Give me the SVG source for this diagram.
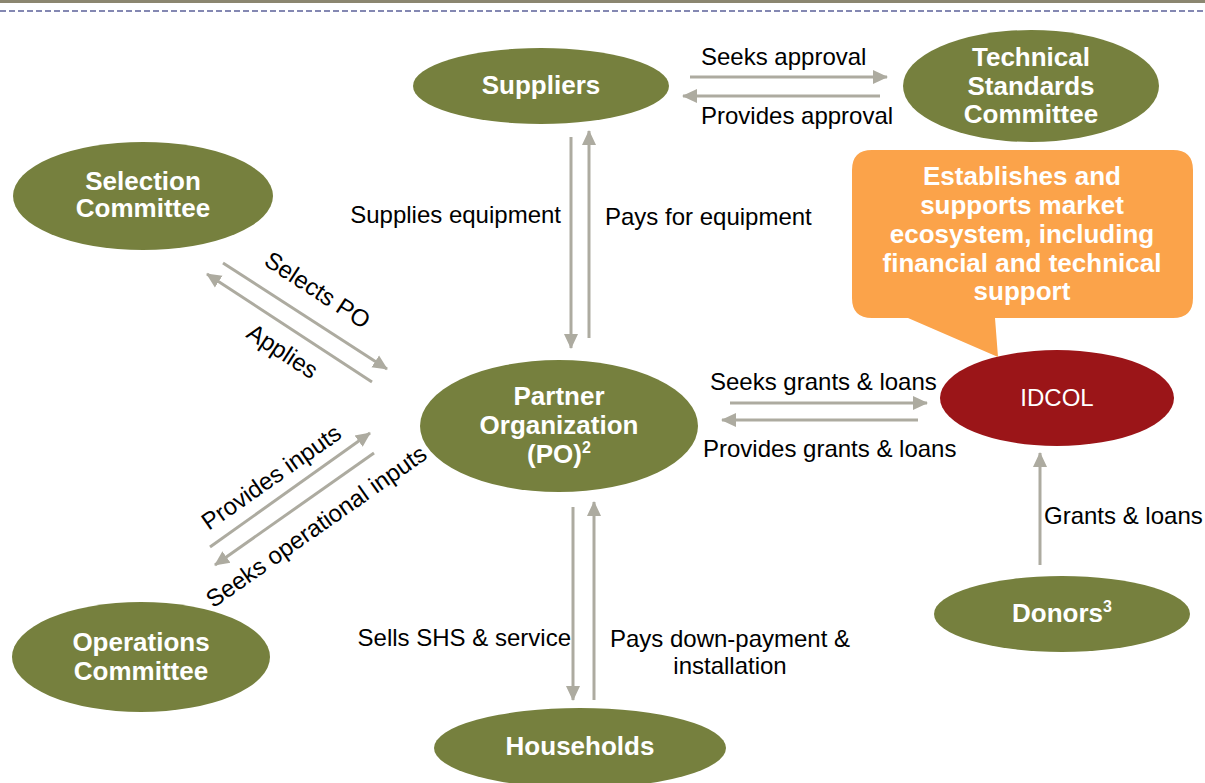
<svg xmlns="http://www.w3.org/2000/svg" width="1205" height="783" viewBox="0 0 1205 783">
<style>
.node{fill:#76803e}
.nt{font-family:"Liberation Sans",Arial,sans-serif;font-weight:bold;font-size:26px;fill:#fff;text-anchor:middle}
.lbl{font-family:"Liberation Sans",Arial,sans-serif;font-size:24px;fill:#000}
.c{stroke:#adaba0;stroke-width:3;fill:none;marker-end:url(#ah)}
</style>
<defs>
<marker id="ah" markerUnits="userSpaceOnUse" markerWidth="16" markerHeight="16" viewBox="0 0 16 16" refX="14" refY="8" orient="auto">
<path d="M0,1 L15,8 L0,15 Z" fill="#adaba0"/>
</marker>
</defs>
<rect x="0" y="0" width="1205" height="3" fill="#8b8670"/>
<line x1="0" y1="11" x2="1205" y2="11" stroke="#5c6199" stroke-width="1.5" stroke-dasharray="6,3"/>

<g id="connectors">
<line class="c" x1="690" y1="77" x2="887" y2="77"/>
<line class="c" x1="880" y1="96" x2="683" y2="96"/>
<line class="c" x1="571" y1="137" x2="571" y2="348"/>
<line class="c" x1="589" y1="338" x2="589" y2="131"/>
<line class="c" x1="223" y1="263" x2="387" y2="369"/>
<line class="c" x1="372" y1="382" x2="207" y2="274"/>
<line class="c" x1="210" y1="547" x2="370" y2="433"/>
<line class="c" x1="374" y1="453" x2="215" y2="565"/>
<line class="c" x1="730" y1="403" x2="927" y2="403"/>
<line class="c" x1="918" y1="420" x2="722" y2="420"/>
<line class="c" x1="1040" y1="565" x2="1040" y2="453"/>
<line class="c" x1="573" y1="507" x2="573" y2="700"/>
<line class="c" x1="594" y1="700" x2="594" y2="502"/>
</g>

<g id="labels">
<text class="lbl" x="701" y="65">Seeks approval</text>
<text class="lbl" x="701" y="124">Provides approval</text>
<text class="lbl" x="561" y="223" text-anchor="end">Supplies equipment</text>
<text class="lbl" x="605" y="225">Pays for equipment</text>
<text class="lbl" transform="translate(313,297) rotate(33)" text-anchor="middle">Selects PO</text>
<text class="lbl" transform="translate(278,358) rotate(33)" text-anchor="middle">Applies</text>
<text class="lbl" transform="translate(276,484) rotate(-35)" text-anchor="middle">Provides inputs</text>
<text class="lbl" transform="translate(321,533) rotate(-35)" text-anchor="middle">Seeks operational inputs</text>
<text class="lbl" x="710" y="390">Seeks grants &amp; loans</text>
<text class="lbl" x="703" y="457">Provides grants &amp; loans</text>
<text class="lbl" x="1044" y="524">Grants &amp; loans</text>
<text class="lbl" x="571" y="646" text-anchor="end">Sells SHS &amp; service</text>
<text class="lbl" x="730" y="647" text-anchor="middle">Pays down-payment &amp;</text>
<text class="lbl" x="730" y="674" text-anchor="middle">installation</text>
</g>

<g id="suppliers">
<ellipse class="node" cx="541" cy="86" rx="128" ry="38"/>
<text class="nt" x="541" y="94">Suppliers</text>
</g>
<g id="tech-standards">
<ellipse class="node" cx="1031" cy="86" rx="128" ry="56"/>
<text class="nt" x="1031" y="66">Technical</text>
<text class="nt" x="1031" y="95">Standards</text>
<text class="nt" x="1031" y="123">Committee</text>
</g>
<g id="selection">
<ellipse class="node" cx="143" cy="196" rx="130" ry="54"/>
<text class="nt" x="143" y="190">Selection</text>
<text class="nt" x="143" y="217">Committee</text>
</g>
<g id="po">
<ellipse class="node" cx="559" cy="426" rx="139" ry="66"/>
<text class="nt" x="559" y="405">Partner</text>
<text class="nt" x="559" y="434">Organization</text>
<text class="nt" x="559" y="463">(PO)<tspan font-size="16" dy="-10">2</tspan></text>
</g>
<g id="idcol">
<ellipse cx="1057" cy="398" rx="117" ry="48" fill="#9b1518"/>
<text x="1057" y="406" font-family="Liberation Sans, Arial, sans-serif" font-size="24" fill="#fff" text-anchor="middle">IDCOL</text>
</g>
<g id="callout">
<path d="M872,150 H1173 Q1193,150 1193,170 V298 Q1193,318 1173,318 H995 L998,357 L908,318 H872 Q852,318 852,298 V170 Q852,150 872,150 Z" fill="#fba34a"/>
<text class="nt" x="1022" y="185">Establishes and</text>
<text class="nt" x="1022" y="214">supports market</text>
<text class="nt" x="1022" y="243">ecosystem, including</text>
<text class="nt" x="1022" y="272">financial and technical</text>
<text class="nt" x="1022" y="300">support</text>
</g>
<g id="donors">
<ellipse class="node" cx="1062" cy="614" rx="128" ry="38"/>
<text class="nt" x="1062" y="622">Donors<tspan font-size="16" dy="-10">3</tspan></text>
</g>
<g id="operations">
<ellipse class="node" cx="141" cy="657" rx="129" ry="55"/>
<text class="nt" x="141" y="651">Operations</text>
<text class="nt" x="141" y="680">Committee</text>
</g>
<g id="households">
<ellipse class="node" cx="580" cy="748" rx="146" ry="40"/>
<text class="nt" x="580" y="755">Households</text>
</g>
</svg>
